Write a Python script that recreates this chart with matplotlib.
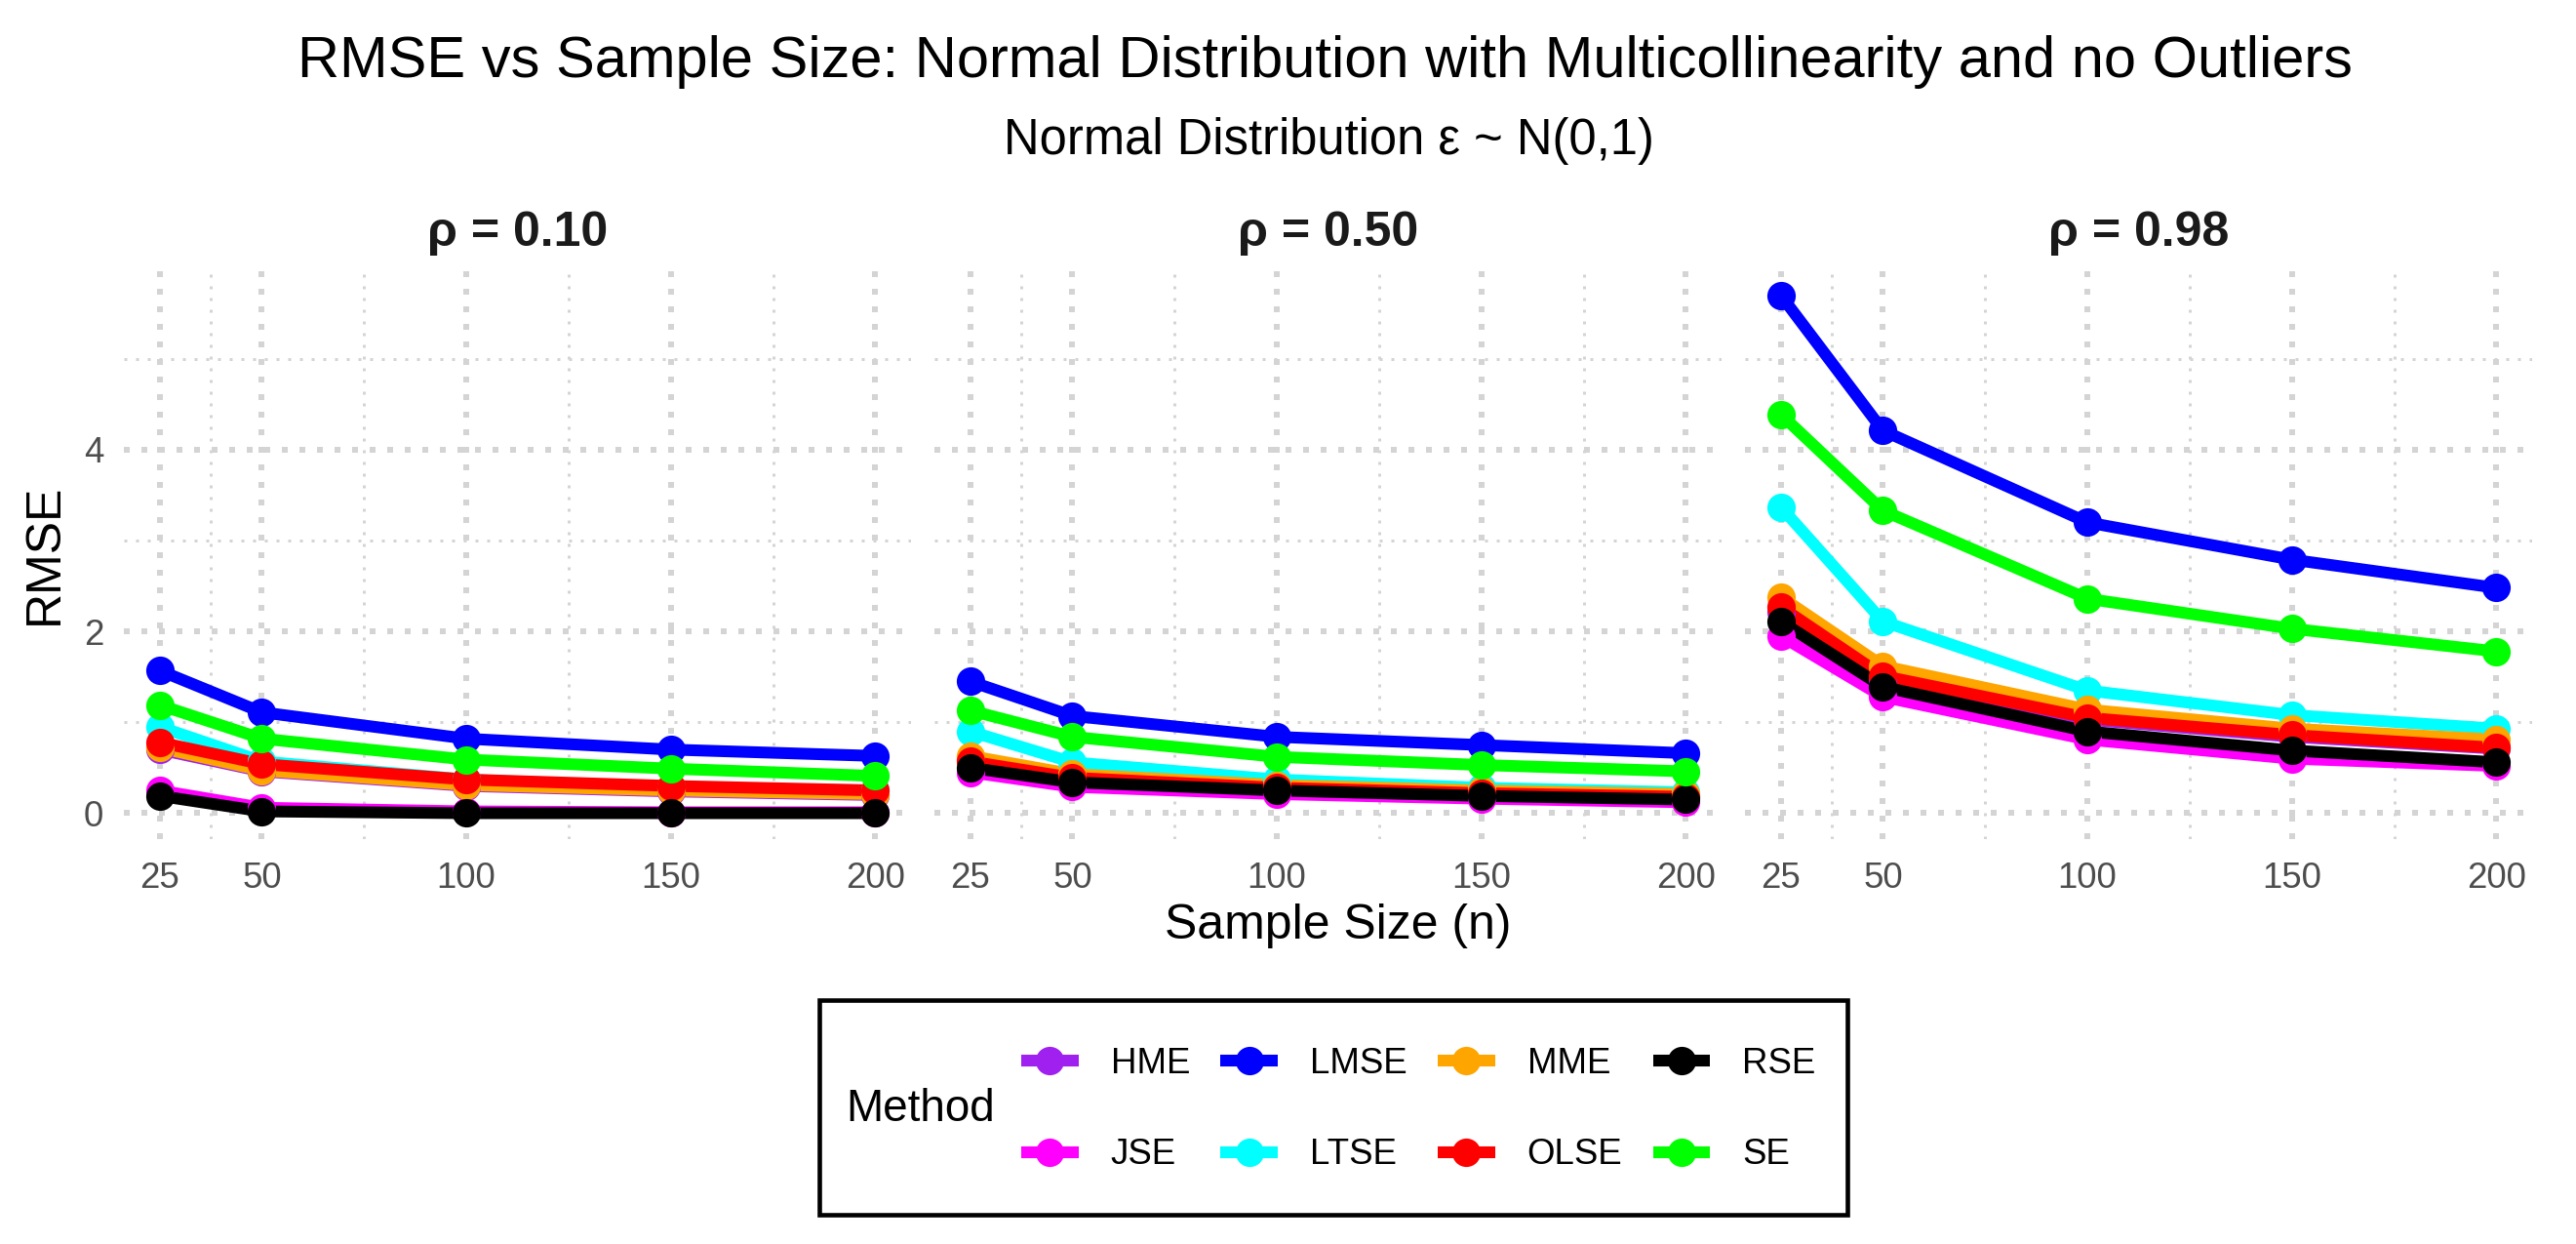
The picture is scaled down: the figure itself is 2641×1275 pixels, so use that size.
import numpy as np
import matplotlib.pyplot as plt
from matplotlib.lines import Line2D
from matplotlib.patches import Rectangle

plt.rcParams['font.family'] = ['Liberation Sans', 'DejaVu Sans']

sample_sizes = [25, 50, 100, 150, 200]
rho_labels = ['ρ = 0.10', 'ρ = 0.50', 'ρ = 0.98']
methods = ['HME', 'JSE', 'LMSE', 'LTSE', 'MME', 'OLSE', 'RSE', 'SE']
colors = {'HME': '#A020F0', 'JSE': '#FF00FF', 'LMSE': '#0000FF', 'LTSE': '#00FFFF',
          'MME': '#FFA500', 'OLSE': '#FF0000', 'RSE': '#000000', 'SE': '#00FF00'}

# rmse per rho, per method (n = 25, 50, 100, 150, 200)
rmse_010 = {
    'HME':  [0.70, 0.46, 0.30, 0.24, 0.20],
    'JSE':  [0.25, 0.06, 0.02, 0.01, 0.01],
    'LMSE': [1.57, 1.11, 0.82, 0.70, 0.63],
    'LTSE': [0.95, 0.57, 0.37, 0.28, 0.25],
    'MME':  [0.72, 0.47, 0.31, 0.25, 0.21],
    'OLSE': [0.78, 0.54, 0.37, 0.30, 0.25],
    'RSE':  [0.19, 0.02, 0.00, 0.00, 0.00],
    'SE':   [1.19, 0.82, 0.59, 0.49, 0.41],
}
rmse_050 = {
    'HME':  [0.60, 0.41, 0.29, 0.23, 0.19],
    'JSE':  [0.45, 0.29, 0.21, 0.16, 0.12],
    'LMSE': [1.45, 1.07, 0.84, 0.75, 0.66],
    'LTSE': [0.90, 0.56, 0.37, 0.28, 0.23],
    'MME':  [0.63, 0.43, 0.31, 0.25, 0.21],
    'OLSE': [0.57, 0.39, 0.28, 0.22, 0.18],
    'RSE':  [0.50, 0.34, 0.25, 0.19, 0.15],
    'SE':   [1.13, 0.84, 0.62, 0.53, 0.46],
}
rmse_098 = {
    'HME':  [2.22, 1.48, 1.03, 0.84, 0.71],
    'JSE':  [1.95, 1.28, 0.81, 0.60, 0.52],
    'LMSE': [5.70, 4.21, 3.20, 2.79, 2.48],
    'LTSE': [3.37, 2.11, 1.35, 1.08, 0.93],
    'MME':  [2.38, 1.62, 1.14, 0.93, 0.81],
    'OLSE': [2.27, 1.51, 1.05, 0.86, 0.72],
    'RSE':  [2.11, 1.39, 0.90, 0.69, 0.56],
    'SE':   [4.39, 3.33, 2.36, 2.03, 1.78],
}
panels = [rmse_010, rmse_050, rmse_098]

W, H, DPI = 2641, 1275, 300
fig = plt.figure(figsize=(W / DPI, H / DPI), dpi=DPI)

# panel geometry in pixels
px_left, px_w, px_gap = 127, 807, 24
px_top, px_bot = 276, 860
grid_col = '#D4D4D4'
lw_line = 2.9
ms = 7.0

ymax = max(max(max(v) for v in d.values()) for d in panels)
ypad = 0.05 * ymax
xpad = 0.05 * (sample_sizes[-1] - sample_sizes[0])

axes = []
for i, data in enumerate(panels):
    l = px_left + i * (px_w + px_gap)
    ax = fig.add_axes([l / W, 1 - px_bot / H, px_w / W, (px_bot - px_top) / H])
    axes.append(ax)
    for m in methods:
        ax.plot(sample_sizes, data[m], color=colors[m], lw=lw_line, zorder=3,
                solid_capstyle='butt')
    for m in methods:
        ax.plot(sample_sizes, data[m], 'o', color=colors[m], ms=ms, zorder=4,
                markeredgewidth=0)
    ax.set_xlim(sample_sizes[0] - xpad, sample_sizes[-1] + xpad)
    ax.set_ylim(-ypad, ymax + ypad)
    ax.set_xticks(sample_sizes)
    ax.set_xticks([37.5, 75, 125, 175], minor=True)
    ax.set_yticks([0, 2, 4])
    ax.set_yticks([1, 3, 5], minor=True)
    ax.grid(which='major', color=grid_col, lw=1.44, ls=(0, (1, 2)), zorder=0)
    ax.grid(which='minor', color=grid_col, lw=0.72, ls=(0, (1, 3)), zorder=0)
    for s in ax.spines.values():
        s.set_visible(False)
    ax.tick_params(which='both', length=0, labelsize=8.8, labelcolor='#4D4D4D', pad=5)
    ax.tick_params(axis='x', pad=5.5)
    if i > 0:
        ax.tick_params(axis='y', labelleft=False)
    fig.text((l + px_w / 2) / W, 1 - 252 / H, rho_labels[i], ha='center', va='baseline',
             fontsize=12, fontweight='bold', color='#1A1A1A')

axes[0].set_ylabel('RMSE', fontsize=12, labelpad=4)

fig.text(1358 / W, 1 - 79 / H, 'RMSE vs Sample Size: Normal Distribution with Multicollinearity and no Outliers',
         ha='center', va='baseline', fontsize=14.3)
fig.text(1362 / W, 1 - 158 / H, 'Normal Distribution ε ~ N(0,1)', ha='center', va='baseline', fontsize=12.2)
fig.text(1372 / W, 1 - 962 / H, 'Sample Size (n)', ha='center', va='baseline', fontsize=12)

# legend with title on the left and a black box
box_l, box_r, box_t, box_b = 840, 1894, 1025, 1245
fig.patches.append(Rectangle((box_l / W, 1 - box_b / H), (box_r - box_l) / W, (box_b - box_t) / H,
                             transform=fig.transFigure, fill=False, ec='black', lw=1.1))
fig.text(867 / W, 1 - 1137 / H, 'Method', ha='left', va='center', fontsize=11)
handles = [Line2D([], [], color=colors[m], lw=lw_line, marker='o', ms=ms,
                  markeredgewidth=0, solid_capstyle='butt') for m in methods]
fig.legend(handles, methods, ncol=4, frameon=False, fontsize=8.8,
           loc='center left', bbox_to_anchor=(1047 / W, 1 - 1137 / H),
           handlelength=1.6, handletextpad=0.9, columnspacing=0.85, labelspacing=1.6,
           borderpad=0, borderaxespad=0)

fig.savefig('out.png', dpi=DPI)
